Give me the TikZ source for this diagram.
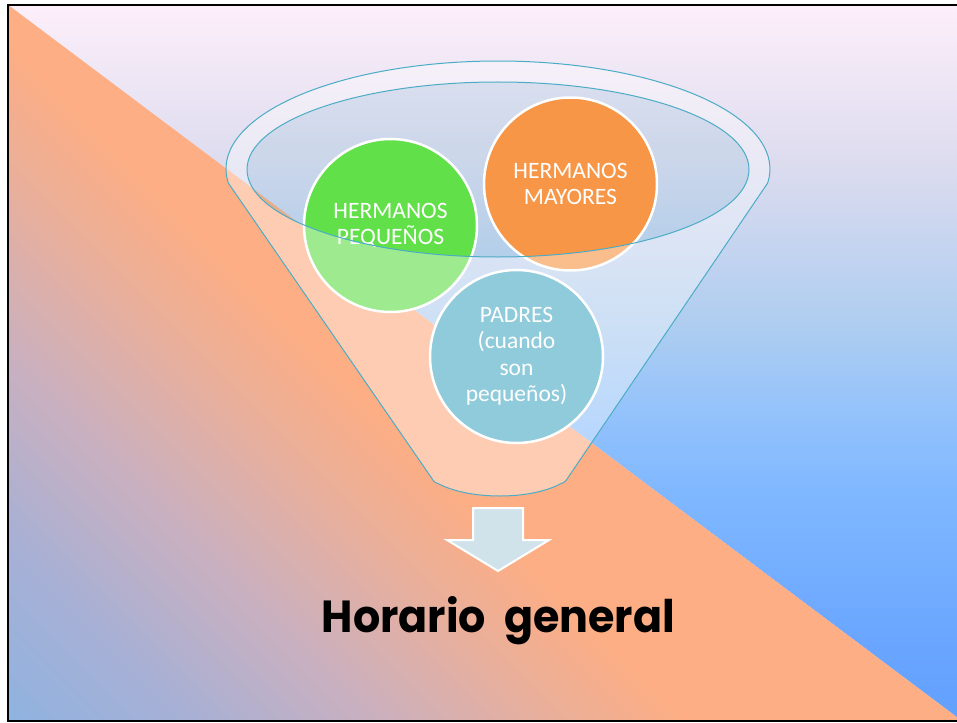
\documentclass[tikz,border=0pt]{standalone}
\usepackage{fontspec}
\newfontfamily\carlito{Carlito}
\newfontfamily\titlefont{Poppins}
\usepackage{graphicx}

\definecolor{funnelline}{HTML}{4BACC6}
\definecolor{innertint}{HTML}{4BACC6}
\definecolor{greenfill}{HTML}{62E04A}
\definecolor{orangefill}{HTML}{F79646}
\definecolor{tealfill}{HTML}{4BACC6}
\definecolor{arrowfill}{HTML}{D0E3EA}
\definecolor{skyA}{HTML}{FDEFFA}
\definecolor{skyC}{HTML}{DDDCEF}
\definecolor{skyD}{HTML}{AECDF0}
\definecolor{skyE}{HTML}{95C3FB}
\definecolor{skyF}{HTML}{80B8FF}
\definecolor{skyG}{HTML}{6AA6FF}
\definecolor{skyH}{HTML}{62A0FF}
\definecolor{warmA}{HTML}{8FB3E0}
\definecolor{warmB}{HTML}{A8B0D5}
\definecolor{warmC}{HTML}{CAB0BF}
\definecolor{warmE}{HTML}{E8AF9C}
\definecolor{warmD}{HTML}{FDAE84}

\pgfdeclareverticalshading{skyshade}{100bp}{color(0bp)=(skyH); color(25bp)=(skyH); color(30.81bp)=(skyG); color(41.11bp)=(skyF); color(46.85bp)=(skyE); color(52.52bp)=(skyD); color(64.01bp)=(skyC); color(75bp)=(skyA); color(100bp)=(skyA)}
\pgfdeclarehorizontalshading{warmshade}{100bp}{color(0bp)=(warmA); color(25bp)=(warmA); color(36.6bp)=(warmB); color(48.2bp)=(warmC); color(58.9bp)=(warmE); color(67.9bp)=(warmD); color(75bp)=(warmD); color(100bp)=(warmD)}

\tikzset{
  bubble/.style={circle, minimum size=173pt, inner sep=0pt, draw=white, line width=2.5pt,
    text=white, align=center, font=\carlito\fontsize{23.5}{26.5}\selectfont},
  funnelrim/.style={draw=funnelline, line width=1pt},
  downarrow/.style={fill=arrowfill, draw=white, line width=2pt, line join=miter},
}

\def\funnelpath{(228.3,183) arc[start angle=172.55, end angle=367.45, x radius=272, y radius=108] -- (567.7,478) .. controls (565,482) .. (560,484) .. controls (530,500) and (470,500) .. (439,484) .. controls (434,482) .. (431.6,478) -- cycle}

\begin{document}
\begin{tikzpicture}[x=1pt, y=-1pt]
\useasboundingbox (0,0) rectangle (957,722);
\fill[white] (0,0) rectangle (957,722);

% background
\begin{scope}
  \clip (7.5,5.5) rectangle (980,720.5);
  \begin{scope}
    \clip (8,5) -- (990,5) -- (990,742) -- cycle;
    \shade[shading=skyshade] (8,5) rectangle (990,720.5);
  \end{scope}
  \begin{scope}
    \clip (8,5) -- (990,742) -- (8,742) -- cycle;
    \fill[warmD] (8,5) rectangle (990,742);
    \begin{scope}[transform canvas={rotate around={45:(8,720)}}]
      \shade[shading=warmshade] (8,-480) rectangle (568,1920);
    \end{scope}
  \end{scope}
\end{scope}

% funnel opening tint
\fill[innertint, fill opacity=0.12] (498,169.5) ellipse[x radius=251, y radius=87.5];

% circles
\node[bubble, fill=greenfill] (hp) at (390.5,225.5) {HERMANOS\\PEQUEÑOS};
\node[bubble, fill=orangefill] (hm) at (570.5,184) {HERMANOS\\MAYORES};
\node[bubble, fill=tealfill] (pa) at (516.5,356.5) {PADRES\\(cuando\\son\\pequeños)};

% funnel veil
\fill[white, fill opacity=0.38, even odd rule] \funnelpath (498,169.5) ellipse[x radius=251, y radius=87.5];
\path[funnelrim] \funnelpath;
\path[funnelrim] (498,169.5) ellipse[x radius=251, y radius=87.5];

% arrow
\draw[downarrow] (473,508) -- (523,508) -- (523,540) -- (549,540) -- (498,571) -- (447,540) -- (473,540) -- cycle;

% title
\node[anchor=base, inner sep=0pt] (title) at (498.5,632) {\resizebox{353pt}{36pt}{\titlefont\bfseries Horario\hspace{0.42em}general}};

% frame
\draw[black, line width=2pt] (7.5,5.5) rectangle (990,720.5);
\end{tikzpicture}
\end{document}
